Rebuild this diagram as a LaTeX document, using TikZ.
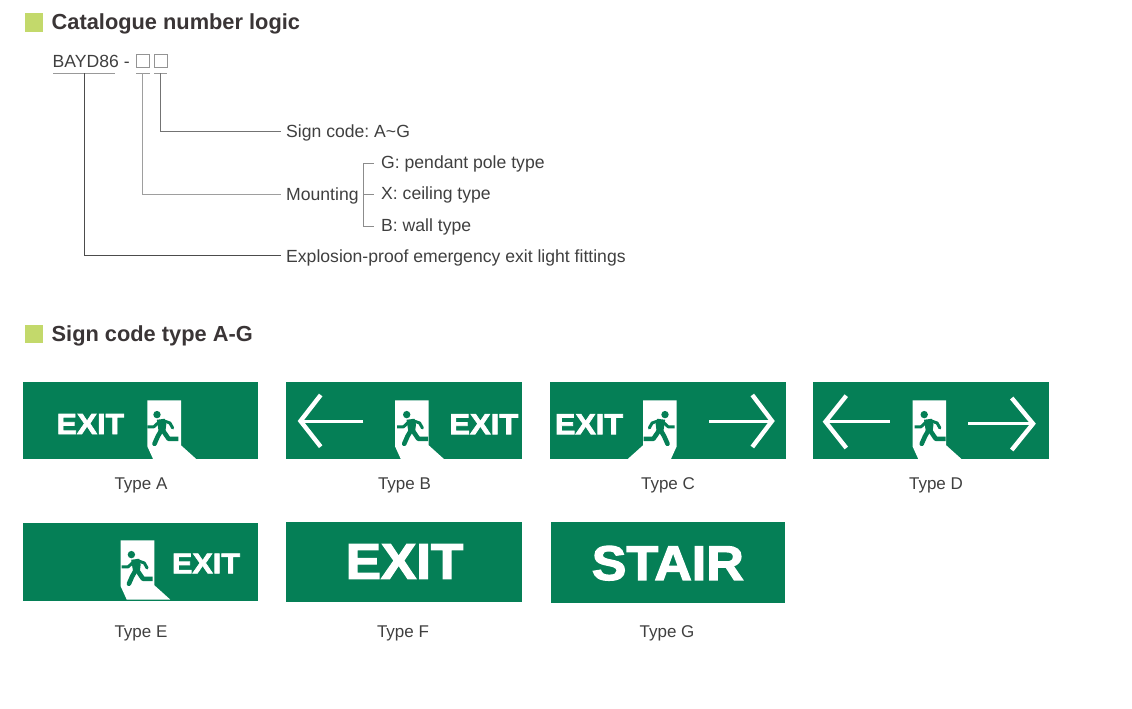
\documentclass[tikz,border=0pt]{standalone}
\usepackage{fontspec}
\usepackage{graphicx}
\setmainfont{Liberation Sans}
\newfontfamily\signfont[UprightFont=* Bold,FakeBold=2.4]{Liberation Sans}
\frenchspacing
\definecolor{signgreen}{HTML}{057F56}
\definecolor{headsq}{HTML}{C3D96B}
\definecolor{inktext}{HTML}{3A3536}
\definecolor{bodytext}{HTML}{3F3F3F}
\tikzset{
  lab/.style={anchor=base west,inner sep=0pt,text=bodytext,font=\fontsize{17.6}{20}\selectfont},
  typelab/.style={anchor=base,inner sep=0pt,text=bodytext,font=\fontsize{17}{20}\selectfont},
  head/.style={anchor=base west,inner sep=0pt,text=inktext,font=\fontsize{21.8}{26}\selectfont\bfseries},
  signbg/.style={fill=signgreen},
  sq/.style={fill=headsq},
  arrowline/.style={white,line width=3pt},
  arrowhd/.style={white,line width=4.4pt,line join=miter},
  ulin/.style={line width=0.6pt,draw=black!40},
  conn/.style={line width=0.8pt},
  signtxt/.style={anchor=center,inner sep=0pt,text=white},
  smallbox/.style={draw=black!42,line width=0.7pt,minimum width=13.4pt,minimum height=13.4pt,inner sep=0pt}
}
\newcommand{\doorfig}[4]{% x, y, xscale, runner shift
  \begin{scope}[shift={(#1,#2)},xscale=#3]
    \fill[white] (0,0) -- (33.7,0) -- (33.7,45) -- (49.5,59.2) -- (6,59.2) -- (0,46) -- cycle;
    \begin{scope}[shift={(#4,0)}]
    \fill[signgreen] (9.7,14.3) circle (3.7);
    \draw[signgreen,line width=3pt,line join=round] (13,20.5) -- (6.5,26.5) -- (0,26.5);
    \draw[signgreen,line width=3pt,line join=round,line cap=round] (15,20) -- (22.6,22.7) -- (25.4,27.7);
    \fill[signgreen] (9.5,19.5) -- (17.5,18.5) -- (19,24) -- (18,32) -- (11.5,32) -- cycle;
    \draw[signgreen,line width=4.6pt,line join=round,line cap=round] (14,30) -- (10.5,36) -- (7.2,43.5);
    \draw[signgreen,line width=4.6pt,line join=round] (15.5,30) -- (21.3,38.5) -- (31,38.5);
    \end{scope}
  \end{scope}}
\begin{document}
\begin{tikzpicture}[x=1pt,y=-1pt]
\useasboundingbox (0,0) rectangle (1132,709);
% headings
\fill[sq] (25,13.5) rectangle (42.7,31.7);
\node[head] (h1) at (51.5,30) {Catalogue number logic};
\fill[sq] (25,325) rectangle (42.7,343);
\node[head] (h2) at (51.5,341) {Sign code type A-G};
% catalogue number
\node[lab] (bayd) at (52.5,67.7) {BAYD86 -};
\node[smallbox] (boxa) at (143,61) {};
\node[smallbox] (boxb) at (161,61) {};
\coordinate (ub) at (84.3,73.3);
\coordinate (ua) at (142.8,73.3);
\coordinate (uc) at (160,73.3);
\draw[ulin] (53.3,73.3) -- (ub) -- (115,73.3);
\draw[ulin] (136,73.3) -- (ua) -- (150,73.3);
\draw[ulin] (154.3,73.3) -- (uc) -- (167,73.3);
\node[lab] (lsign) at (286,137) {Sign code: A\textasciitilde G};
\node[lab] (lmount) at (286,200) {Mounting};
\node[lab] (lg) at (381,168) {G: pendant pole type};
\node[lab] (lx) at (381,199.5) {X: ceiling type};
\node[lab] (lb) at (381,231) {B: wall type};
\node[lab] (lexp) at (286,262) {Explosion-proof emergency exit light fittings};
\coordinate (esign) at (280.5,131);
\coordinate (emount) at (280.5,194);
\coordinate (eexp) at (280.5,255.5);
\draw[conn,draw=black!55] (uc) |- (esign);
\draw[conn,draw=black!38] (ua) |- (emount);
\draw[conn,draw=black!70] (ub) |- (eexp);
\coordinate (bt) at (373.5,163);
\coordinate (bm) at (373.5,194);
\coordinate (bb) at (373.5,226);
\draw[line width=0.6pt,draw=black!45] (bt) -- (363.5,163) -- (363.5,226) -- (bb);
\draw[line width=0.6pt,draw=black!45] (363.5,194) -- (bm);
% type A
\fill[signbg] (23.3,382.3) rectangle (258.4,459.4);
\doorfig{147.3}{400.3}{1}{0}
\node[signtxt] (exa) at (90.4,424) {\resizebox{67.4pt}{20pt}{\signfont EXIT}};
\node[typelab] (ta) at (141,489) {Type A};
% type B
\fill[signbg] (286,382.3) rectangle (522.3,459.4);
\doorfig{395}{400.3}{1}{2}
\node[signtxt] (exb) at (483.8,424.2) {\resizebox{69pt}{20pt}{\signfont EXIT}};
\draw[arrowline] (363.3,421.3) -- (300,421.3);
\draw[arrowhd] (320.7,395) -- (300.5,421) -- (320.7,446.7);
\node[typelab] (tb) at (404.5,489) {Type B};
% type C
\fill[signbg] (550.3,382.3) rectangle (785.7,459.4);
\doorfig{676.7}{400.3}{-1}{2}
\node[signtxt] (exc) at (589,424.2) {\resizebox{68pt}{20pt}{\signfont EXIT}};
\draw[arrowline] (709,421.3) -- (772,421.3);
\draw[arrowhd] (752.3,395) -- (772,421) -- (752.3,447);
\node[typelab] (tc) at (668,489) {Type C};
% type D
\fill[signbg] (813.3,382.3) rectangle (1049,459.4);
\doorfig{912.5}{400.3}{1}{2}
\draw[arrowline] (889.7,421.7) -- (825,421.7);
\draw[arrowhd] (846.3,395.7) -- (825.5,421.7) -- (846.3,448);
\draw[arrowline] (968.3,423.7) -- (1033,423.7);
\draw[arrowhd] (1011.7,398) -- (1033,423.7) -- (1011.7,450);
\node[typelab] (td) at (936,489) {Type D};
% type E
\fill[signbg] (23.3,523.3) rectangle (258.4,600.7);
\doorfig{120.7}{540.3}{1}{1}
\node[signtxt] (exe) at (206,563.5) {\resizebox{68pt}{19.6pt}{\signfont EXIT}};
\node[typelab] (te) at (141,637) {Type E};
% type F
\fill[signbg] (286,522.3) rectangle (522,602);
\node[signtxt] (exf) at (404.5,561.5) {\resizebox{117.6pt}{34.4pt}{\signfont EXIT}};
\node[typelab] (tf) at (403,637) {Type F};
% type G
\fill[signbg] (550.7,522.3) rectangle (785,602.7);
\node[signtxt] (exg) at (667.8,563.2) {\resizebox{152pt}{34pt}{\signfont STAIR}};
\node[typelab] (tg) at (667,637) {Type G};
\end{tikzpicture}
\end{document}
